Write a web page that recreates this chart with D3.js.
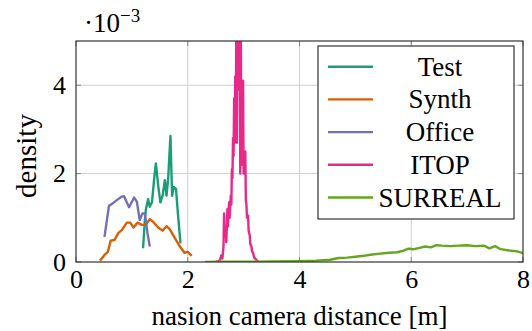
<!DOCTYPE html>
<html>
<head>
<meta charset="utf-8">
<script src="https://cdn.jsdelivr.net/npm/d3@7"></script>
<style>
  body { margin: 0; background: #fff; }
  text { font-family: "Liberation Serif", "Times New Roman", serif; fill: #000; }
</style>
</head>
<body>
<svg id="svg" width="532" height="331"></svg>
<script>
// density values are in units of 1e-3
const testDist = [1.20, 1.23, 1.25, 1.29, 1.32, 1.36, 1.40, 1.43, 1.47, 1.51, 1.55, 1.59, 1.62, 1.65, 1.69, 1.72, 1.75, 1.79, 1.83, 1.87];
const testDensity = [0.31, 0.90, 1.18, 1.42, 1.25, 1.35, 1.90, 2.23, 1.74, 1.35, 1.50, 1.85, 1.50, 1.90, 2.85, 1.50, 1.70, 1.65, 1.00, 0.42];

const synthDist = [0.43, 0.51, 0.57, 0.62, 0.69, 0.76, 0.82, 0.91, 0.97, 1.03, 1.10, 1.18, 1.25, 1.32, 1.38, 1.47, 1.55, 1.62, 1.68, 1.77, 1.86, 1.94, 2.00, 2.07];
const synthDensity = [0.03, 0.16, 0.23, 0.48, 0.50, 0.66, 0.72, 0.89, 0.89, 0.78, 0.89, 0.84, 0.84, 0.97, 0.91, 0.78, 0.71, 0.81, 0.74, 0.54, 0.35, 0.21, 0.23, 0.14];

const officeDist = [0.51, 0.59, 0.64, 0.73, 0.82, 0.86, 0.95, 1.04, 1.09, 1.14, 1.19, 1.23, 1.28, 1.32];
const officeDensity = [0.57, 1.27, 1.31, 1.40, 1.48, 1.49, 1.24, 1.46, 1.36, 0.95, 1.10, 1.10, 0.65, 0.35];

const itopDist = [2.50, 2.55, 2.58, 2.60, 2.62, 2.64, 2.65, 2.66, 2.68, 2.69, 2.71, 2.72, 2.74, 2.75, 2.77, 2.78, 2.79, 2.80, 2.81, 2.82, 2.83, 2.84, 2.85, 2.86, 2.87, 2.88, 2.89, 2.90, 2.91, 2.92, 2.93, 2.94, 2.95, 2.96, 2.97, 2.98, 2.99, 3.00, 3.01, 3.02, 3.03, 3.04, 3.05, 3.06, 3.08, 3.09, 3.11, 3.12, 3.14, 3.15, 3.17, 3.19, 3.22, 3.26];
const itopDensity = [0.00, 0.02, 0.05, 0.15, 0.08, 0.35, 1.10, 0.60, 0.75, 0.45, 1.20, 0.80, 1.35, 1.00, 1.50, 1.30, 2.10, 1.90, 2.80, 2.40, 3.70, 2.70, 4.20, 3.00, 5.80, 2.70, 5.50, 4.10, 6.00, 3.90, 5.60, 2.00, 5.20, 2.20, 4.10, 3.70, 4.10, 2.00, 2.40, 2.30, 2.50, 1.40, 1.30, 1.00, 1.05, 0.70, 0.60, 0.40, 0.35, 0.25, 0.20, 0.10, 0.06, 0.00];

const surrealDist = [2.31, 2.60, 3.00, 3.50, 4.00, 4.30, 4.55, 4.70, 4.85, 5.00, 5.15, 5.30, 5.45, 5.60, 5.75, 5.85, 5.95, 6.05, 6.15, 6.25, 6.35, 6.45, 6.55, 6.70, 6.85, 7.00, 7.15, 7.30, 7.40, 7.50, 7.60, 7.75, 7.90, 8.00];
const surrealDensity = [0.00, 0.005, 0.005, 0.01, 0.02, 0.03, 0.05, 0.09, 0.10, 0.12, 0.14, 0.17, 0.19, 0.21, 0.22, 0.25, 0.30, 0.29, 0.32, 0.35, 0.33, 0.38, 0.37, 0.36, 0.37, 0.38, 0.36, 0.37, 0.31, 0.36, 0.29, 0.26, 0.24, 0.20];

const seriesNames = ['Test', 'Synth', 'Office', 'ITOP', 'SURREAL'];
const seriesColors = ['#1b9e77', '#d95f02', '#7570b3', '#e7298a', '#66a61e'];
const xTicks = [0, 2, 4, 6, 8];
const yTicks = [0, 2, 4];

const series = [
  [testDist, testDensity],
  [synthDist, synthDensity],
  [officeDist, officeDensity],
  [itopDist, itopDensity],
  [surrealDist, surrealDensity]
].map(function (s, i) {
  return { name: seriesNames[i], color: seriesColors[i], points: s[0].map(function (d, j) { return [d, s[1][j]]; }) };
});

const plotL = 76, plotR = 523, plotT = 41, plotB = 262;
const x = d3.scaleLinear().domain([0, 8]).range([plotL, plotR]);
const y = d3.scaleLinear().domain([0, 5]).range([plotB, plotT]);

const svg = d3.select('#svg');

// grid
svg.append('g').selectAll('line').data(xTicks.slice(1, -1)).enter().append('line')
  .attr('x1', d => x(d)).attr('x2', d => x(d)).attr('y1', plotT).attr('y2', plotB)
  .attr('stroke', '#d0d0d0').attr('stroke-width', 1);
svg.append('g').selectAll('line').data(yTicks.slice(1)).enter().append('line')
  .attr('x1', plotL).attr('x2', plotR).attr('y1', d => y(d)).attr('y2', d => y(d))
  .attr('stroke', '#d0d0d0').attr('stroke-width', 1);

// small tick marks on the frame
const tickLen = 5;
xTicks.forEach(function (t) {
  svg.append('line').attr('x1', x(t)).attr('x2', x(t)).attr('y1', plotB).attr('y2', plotB - tickLen).attr('stroke', '#888');
  svg.append('line').attr('x1', x(t)).attr('x2', x(t)).attr('y1', plotT).attr('y2', plotT + tickLen).attr('stroke', '#888');
});
yTicks.forEach(function (t) {
  svg.append('line').attr('x1', plotL).attr('x2', plotL + tickLen).attr('y1', y(t)).attr('y2', y(t)).attr('stroke', '#888');
  svg.append('line').attr('x1', plotR).attr('x2', plotR - tickLen).attr('y1', y(t)).attr('y2', y(t)).attr('stroke', '#888');
});

// lines
svg.append('clipPath').attr('id', 'clip').append('rect')
  .attr('x', plotL).attr('y', plotT).attr('width', plotR - plotL).attr('height', plotB - plotT);

const line = d3.line().x(d => x(d[0])).y(d => y(d[1]));

svg.append('g').attr('clip-path', 'url(#clip)')
  .selectAll('path').data(series).enter().append('path')
  .attr('d', d => line(d.points))
  .attr('fill', 'none')
  .attr('stroke', d => d.color)
  .attr('stroke-width', 2.4)
  .attr('stroke-linejoin', 'round');

// frame
svg.append('rect').attr('x', plotL).attr('y', plotT).attr('width', plotR - plotL).attr('height', plotB - plotT)
  .attr('fill', 'none').attr('stroke', '#333').attr('stroke-width', 1.2);

// axes labels
const xAxis = d3.axisBottom(x).tickValues(xTicks).tickSize(0).tickPadding(8).tickFormat(d3.format('d'));
const gx = svg.append('g').attr('transform', 'translate(0,' + plotB + ')').call(xAxis);
gx.select('.domain').remove();
gx.selectAll('text').attr('font-size', 26).attr('fill', '#000');

const yAxis = d3.axisLeft(y).tickValues(yTicks).tickSize(0).tickPadding(10).tickFormat(d3.format('d'));
const gy = svg.append('g').attr('transform', 'translate(' + plotL + ',0)').call(yAxis);
gy.select('.domain').remove();
gy.selectAll('text').attr('font-size', 26).attr('fill', '#000');

// scale factor
const sf = svg.append('text').attr('x', 84).attr('y', 32).attr('font-size', 27);
sf.append('tspan').text('\u00b710');
sf.append('tspan').attr('dy', -10).attr('font-size', 19).text('\u22123');

svg.append('text').attr('x', (plotL + plotR) / 2).attr('y', 325)
  .attr('text-anchor', 'middle').attr('font-size', 27).text('nasion camera distance [m]');

svg.append('text').attr('transform', 'translate(36,' + 156 + ') rotate(-90)')
  .attr('text-anchor', 'middle').attr('font-size', 29).text('density');

// legend
const legend = svg.append('g');
legend.append('rect').attr('x', 318).attr('y', 46).attr('width', 196).attr('height', 173)
  .attr('fill', '#fff').attr('stroke', '#333').attr('stroke-width', 1.2);
const entry = legend.selectAll('g.entry').data(series).enter().append('g')
  .attr('transform', (d, i) => 'translate(0,' + (66.7 + i * 32.7) + ')');
entry.append('line').attr('x1', 328).attr('x2', 373).attr('y1', 0).attr('y2', 0)
  .attr('stroke', d => d.color).attr('stroke-width', 2.4);
entry.append('text').attr('x', 440).attr('y', 9).attr('text-anchor', 'middle').attr('font-size', 27)
  .text(d => d.name);
</script>
</body>
</html>
